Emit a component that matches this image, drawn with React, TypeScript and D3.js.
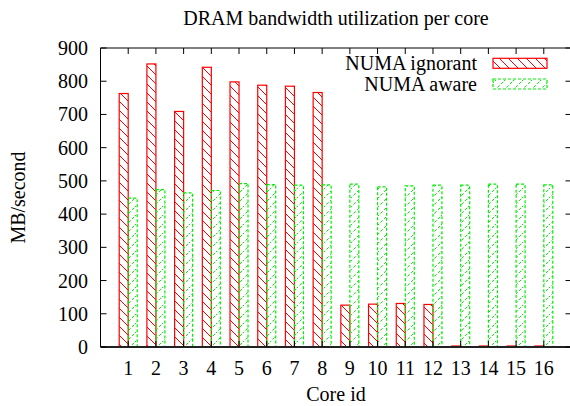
import React from "react";
import * as d3 from "d3";

const cores = [1, 2, 3, 4, 5, 6, 7, 8, 9, 10, 11, 12, 13, 14, 15, 16];
const numaIgnorant = [763, 852, 709, 842, 798, 788, 785, 766, 126, 129, 131, 128, 3, 3, 3, 3];
const numaAware = [448, 474, 464, 471, 492, 489, 487, 488, 490, 482, 485, 487, 487, 490, 490, 488];
const yTicks = [0, 100, 200, 300, 400, 500, 600, 700, 800, 900];
const seriesNames = ["NUMA ignorant", "NUMA aware"];

const W = 570;
const H = 406;
const FONT = "'Liberation Serif', 'Times New Roman', serif";
const RED = "#ff0000";
const GREEN = "#00ee00";

export default function App() {
  const x = d3.scaleLinear().domain([0, 17]).range([100.5, 571.5]);
  const y = d3.scaleLinear().domain([0, 900]).range([347, 48]);
  const bw = x(0.325) - x(0);
  const left = x(0);
  const right = x(17);
  const top = y(900);
  const bottom = y(0);

  return (
    <svg
      width={W}
      height={H}
      style={{ position: "absolute", left: 0, top: 0, background: "#fff" }}
      fontFamily={FONT}
    >
      <defs>
        <pattern id="pRed" patternUnits="userSpaceOnUse" width={9} height={9}>
          <path d="M-1,-1 L10,10 M-5,4 L0,9 M4,-5 L10,1" stroke={RED} strokeWidth={1} fill="none" />
        </pattern>
        <pattern id="pGreen" patternUnits="userSpaceOnUse" width={9} height={9}>
          <path
            d="M-1,10 L10,-1 M-5,5 L1,-1 M4,14 L14,4"
            stroke={GREEN}
            strokeWidth={1}
            strokeDasharray="3,2"
            fill="none"
          />
        </pattern>
      </defs>
      <rect x={0} y={0} width={W} height={H} fill="#fff" />

      <text x={(left + right) / 2} y={25} fontSize={20} textAnchor="middle">
        DRAM bandwidth utilization per core
      </text>

      {/* bars */}
      {cores.map((c, i) => (
        <g key={c}>
          <rect
            x={x(c) - bw}
            y={y(numaIgnorant[i])}
            width={bw}
            height={bottom - y(numaIgnorant[i])}
            fill="url(#pRed)"
            stroke={RED}
            strokeWidth={1.2}
          />
          <rect
            x={x(c)}
            y={y(numaAware[i])}
            width={bw}
            height={bottom - y(numaAware[i])}
            fill="url(#pGreen)"
            stroke={GREEN}
            strokeWidth={1.2}
            strokeDasharray="3,2"
          />
        </g>
      ))}

      {/* frame */}
      <line x1={left} x2={right} y1={top} y2={top} stroke="#000" strokeWidth={1} />
      <line x1={left} x2={left} y1={top} y2={bottom} stroke="#000" strokeWidth={1} />
      <line x1={right} x2={right} y1={top} y2={bottom} stroke="#000" strokeWidth={1} />
      <line x1={left} x2={right} y1={bottom} y2={bottom} stroke="#222" strokeWidth={2} />

      {/* y ticks */}
      {yTicks.map((t) => (
        <g key={t}>
          <line x1={left} x2={left + 6} y1={y(t)} y2={y(t)} stroke="#000" />
          <line x1={right} x2={right - 6} y1={y(t)} y2={y(t)} stroke="#000" />
          <text x={88} y={y(t)} dy="0.35em" fontSize={20} textAnchor="end">
            {t}
          </text>
        </g>
      ))}

      {/* x ticks */}
      {cores.map((c) => (
        <g key={c}>
          <line x1={x(c)} x2={x(c)} y1={top} y2={top + 6} stroke="#000" />
          <line x1={x(c)} x2={x(c)} y1={bottom} y2={bottom - 6} stroke="#000" />
          <text x={x(c)} y={375} fontSize={20} textAnchor="middle">
            {c}
          </text>
        </g>
      ))}

      <text x={(left + right) / 2} y={401} fontSize={20} textAnchor="middle">
        Core id
      </text>
      <text
        transform={`translate(25,${(top + bottom) / 2}) rotate(-90)`}
        fontSize={20}
        textAnchor="middle"
      >
        MB/second
      </text>

      {/* legend */}
      {seriesNames.map((name, i) => {
        const cy = i === 0 ? 63.3 : 84;
        return (
          <g key={name}>
            <text x={477} y={cy} dy="0.33em" fontSize={20} textAnchor="end">
              {name}
            </text>
            <rect
              x={493}
              y={cy - 5}
              width={54}
              height={10}
              fill={i === 0 ? "url(#pRed)" : "url(#pGreen)"}
              stroke={i === 0 ? RED : GREEN}
              strokeWidth={1.2}
              strokeDasharray={i === 0 ? undefined : "3,2"}
            />
          </g>
        );
      })}
    </svg>
  );
}
